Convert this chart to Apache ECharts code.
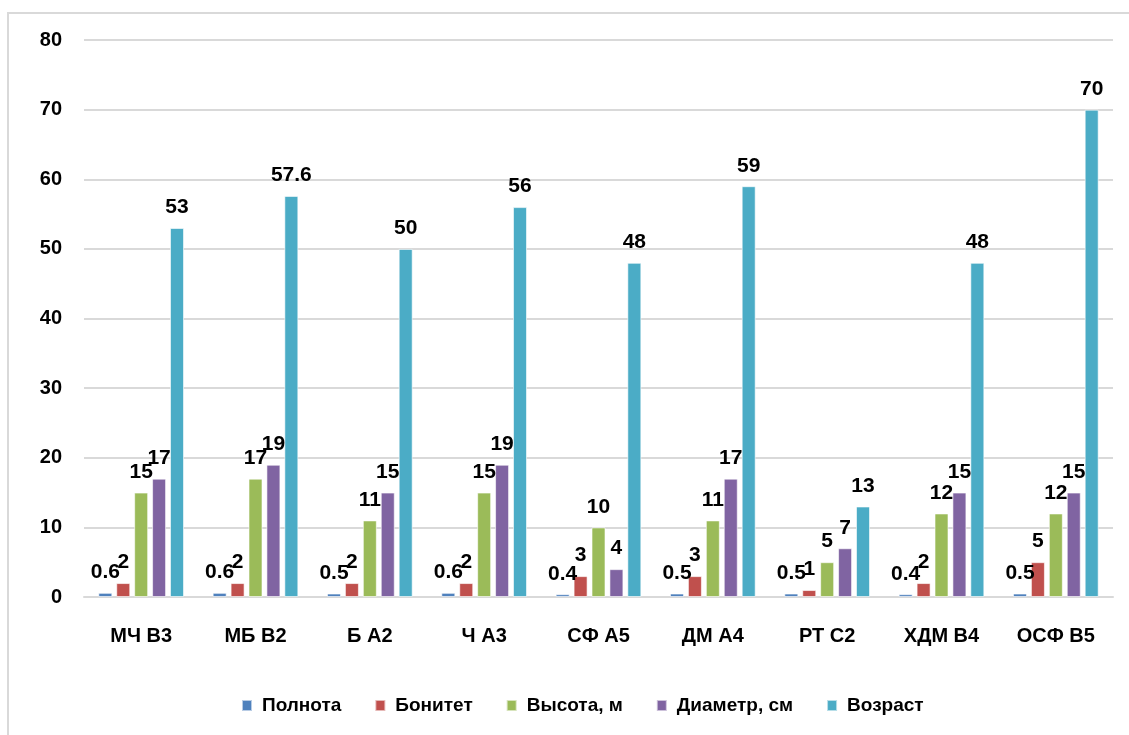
<!DOCTYPE html>
<html>
<head>
<meta charset="utf-8">
<script src="https://cdn.jsdelivr.net/npm/echarts@6/dist/echarts.min.js"></script>
<style>
  html, body { margin: 0; padding: 0; background: #fff; }
  #frame {
    position: absolute; left: 7px; top: 12px; width: 1122px; height: 723px;
    border-top: 2px solid #d9d9d9; border-left: 2px solid #d9d9d9; box-sizing: border-box;
  }
  #chart { position: absolute; left: 0; top: 0; width: 1129px; height: 735px; }
</style>
</head>
<body>
<div id="frame"></div>
<div id="chart"></div>
<script>
// Stand categories and measured indicators
const categories = ['МЧ В3', 'МБ В2', 'Б А2', 'Ч А3', 'СФ А5', 'ДМ А4', 'РТ С2', 'ХДМ В4', 'ОСФ В5'];
const polnota  = [0.6, 0.6, 0.5, 0.6, 0.4, 0.5, 0.5, 0.4, 0.5];
const bonitet  = [2, 2, 2, 2, 3, 3, 1, 2, 5];
const vysota   = [15, 17, 11, 15, 10, 11, 5, 12, 12];
const diametr  = [17, 19, 15, 19, 4, 17, 7, 15, 15];
const vozrast  = [53, 57.6, 50, 56, 48, 59, 13, 48, 70];
const yTicks   = { min: 0, max: 80, interval: 10 };

const seriesDefs = [
  { name: 'Полнота', data: polnota, color: '#4F81BD' },
  { name: 'Бонитет', data: bonitet, color: '#C0504D' },
  { name: 'Высота, м', data: vysota, color: '#9BBB59' },
  { name: 'Диаметр, см', data: diametr, color: '#8064A2' },
  { name: 'Возраст', data: vozrast, color: '#4BACC6' }
];

const font = '"Liberation Sans", Arial, sans-serif';
const chart = echarts.init(document.getElementById('chart'), null, { renderer: 'canvas' });

chart.setOption({
  animation: false,
  grid: { left: 84, right: 16, top: 40, bottom: 138, containLabel: false },
  legend: {
    top: 691,
    left: 236,
    itemWidth: 10,
    itemHeight: 11,
    itemGap: 33,
    icon: 'rect',
    textStyle: { fontFamily: font, fontSize: 19, fontWeight: 'bold', color: '#000', padding: [0, 0, 0, 5] },
    data: seriesDefs.map(s => s.name)
  },
  xAxis: {
    type: 'category',
    data: categories,
    axisTick: { show: false },
    axisLine: { lineStyle: { color: '#d9d9d9', width: 2 } },
    axisLabel: { margin: 29, fontFamily: font, fontSize: 20, fontWeight: 'bold', color: '#000' }
  },
  yAxis: {
    type: 'value',
    min: yTicks.min,
    max: yTicks.max,
    interval: yTicks.interval,
    axisLine: { show: false },
    axisTick: { show: false },
    splitLine: { lineStyle: { color: '#d9d9d9', width: 2 } },
    axisLabel: { margin: 22, fontFamily: font, fontSize: 20, fontWeight: 'bold', color: '#000' }
  },
  series: seriesDefs.map(s => ({
    name: s.name,
    type: 'bar',
    data: s.data,
    barWidth: 14,
    barGap: '28%',
    itemStyle: { color: s.color, borderColor: 'rgba(255,255,255,0.6)', borderWidth: 1 },
    label: {
      show: true,
      position: 'top',
      distance: 10,
      fontFamily: font,
      fontSize: 21,
      fontWeight: 'bold',
      color: '#000'
    }
  }))
});
</script>
</body>
</html>
